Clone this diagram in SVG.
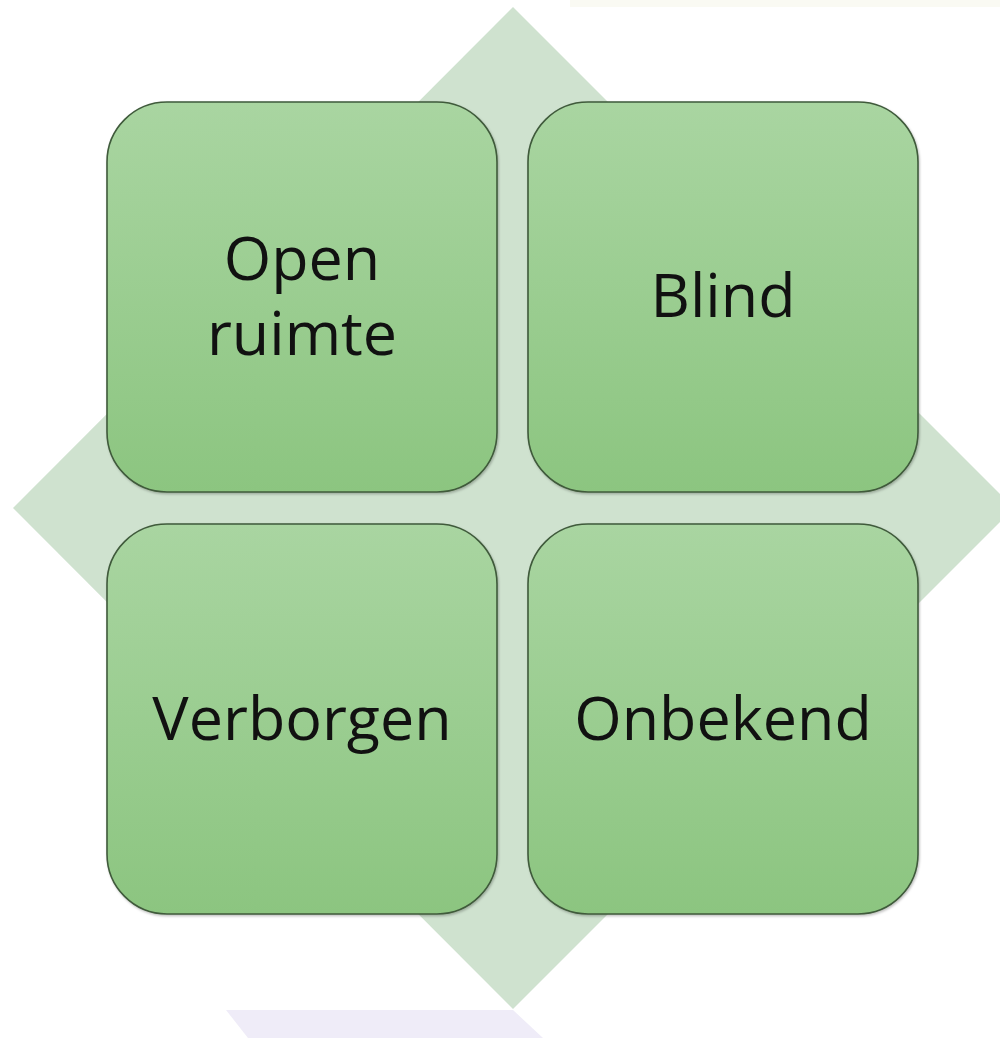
<svg xmlns="http://www.w3.org/2000/svg" width="1000" height="1038" viewBox="0 0 1000 1038">
  <defs>
    <linearGradient id="g" x1="0" y1="0" x2="0" y2="1">
      <stop offset="0" stop-color="#a9d5a1"/>
      <stop offset="1" stop-color="#8cc580"/>
    </linearGradient>
    <filter id="sh" x="-5%" y="-5%" width="110%" height="110%">
      <feDropShadow dx="1" dy="1.5" stdDeviation="1.2" flood-color="#000" flood-opacity="0.25"/>
    </filter>
    <style>
      .box { fill: url(#g); stroke: #3f5a3b; stroke-width: 1.6; filter: url(#sh); }
      .lbl { font-family: "Open Sans", "Noto Sans", "Liberation Sans", sans-serif; font-size: 61px; fill: #111; text-anchor: middle; }
    </style>
  </defs>
  <rect width="1000" height="1038" fill="#ffffff"/>
  <rect x="570" y="0" width="430" height="7" fill="#fafaf3"/>
  <polygon points="226,1010 513,1010 543,1038 248,1038" fill="#efecf8"/>
  <polygon id="diamond" points="513,7 1014,508 513,1009 13,508" fill="#cfe2cf"/>
  <g id="connectors"/>
  <g id="node-open">
    <rect class="box" x="107" y="102" width="390" height="390" rx="60" ry="60"/>
    <text class="lbl" x="302" y="280">Open</text>
    <text class="lbl" x="302" y="355">ruimte</text>
  </g>
  <g id="node-blind">
    <rect class="box" x="528" y="102" width="390" height="390" rx="60" ry="60"/>
    <text class="lbl" x="723" y="317">Blind</text>
  </g>
  <g id="node-verborgen">
    <rect class="box" x="107" y="524" width="390" height="390" rx="60" ry="60"/>
    <text class="lbl" x="302" y="740">Verborgen</text>
  </g>
  <g id="node-onbekend">
    <rect class="box" x="528" y="524" width="390" height="390" rx="60" ry="60"/>
    <text class="lbl" x="723" y="740">Onbekend</text>
  </g>
</svg>
